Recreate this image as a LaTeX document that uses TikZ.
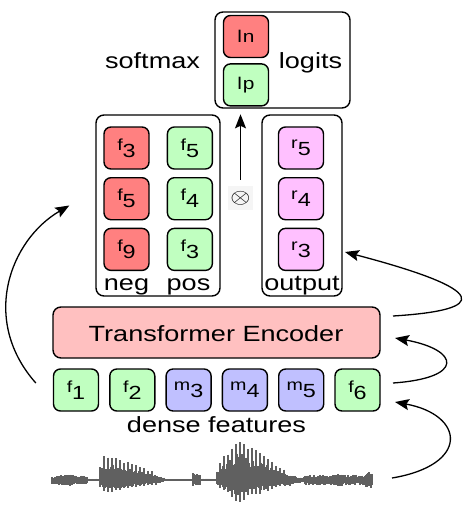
\documentclass[tikz,border=0pt]{standalone}
\usepackage{fontspec}
\setmainfont{Liberation Sans}[FakeStretch=1.23]
\usetikzlibrary{positioning,arrows.meta}

\definecolor{negred}{HTML}{FF8080}
\definecolor{posgreen}{HTML}{C0FFC0}
\definecolor{maskblue}{HTML}{C0C0FF}
\definecolor{outpink}{HTML}{FFC0FF}
\definecolor{encpink}{HTML}{FFC0C0}
\definecolor{wavegray}{HTML}{606060}

% letter with a lowered index
\newcommand{\sublab}[2]{{\fontsize{16}{16}\selectfont #1}\raisebox{-7pt}{#2}}

\begin{document}
\begin{tikzpicture}[x=1pt,y=-1pt,>={Stealth[length=14pt,width=11pt,inset=2.5pt]},
  node distance=7.3pt and 17pt,
  lbl/.style={font=\fontsize{22}{26}\selectfont,inner sep=0pt,anchor=base},
  cell/.style={draw,rounded corners=7pt,line width=1.4pt,minimum width=45pt,minimum height=42pt,inner sep=0pt,font=\fontsize{19}{19}\selectfont},
  group/.style={draw,rounded corners=8pt,line width=1.4pt,inner sep=0pt},
  conn/.style={->,line width=1.3pt},
  wave/.style={line width=1.1pt,draw=wavegray}]

  \useasboundingbox (0,0) rectangle (465,519);

  % logits on top
  \node[group,minimum width=135pt,minimum height=96pt] (logits) at (282.5,60) {};
  \node[cell,fill=negred,font=\fontsize{17}{17}\selectfont] (ln) at (246,36.5) {l\kern1pt n};
  \node[cell,fill=posgreen,font=\fontsize{17}{17}\selectfont,below=5pt of ln] (lp) {l\kern1pt p};
  \node[lbl] (logitslbl) at (310.5,68) {logits};
  \node[lbl] (softmax) at (152.5,68) {softmax};

  % negatives and positives
  \node[group,minimum width=124pt,minimum height=181pt] (negpos) at (158,205.5) {};
  \node[cell,fill=negred] (n1) at (126.5,148) {\sublab{f}{3}};
  \node[cell,fill=negred,below=of n1] (n2) {\sublab{f}{5}};
  \node[cell,fill=negred,below=of n2] (n3) {\sublab{f}{9}};
  \node[cell,fill=posgreen,right=of n1] (p1) {\sublab{f}{5}};
  \node[cell,fill=posgreen,right=of n2] (p2) {\sublab{f}{4}};
  \node[cell,fill=posgreen,right=of n3] (p3) {\sublab{f}{3}};
  \node[lbl] (neglbl) at (126.5,290) {neg};
  \node[lbl] (poslbl) at (188.5,290) {pos};

  % encoder output
  \node[group,minimum width=80pt,minimum height=181pt] (outbox) at (302,205.5) {};
  \node[cell,fill=outpink] (r1) at (301,148) {\sublab{r}{5}};
  \node[cell,fill=outpink,below=of r1] (r2) {\sublab{r}{4}};
  \node[cell,fill=outpink,below=of r2] (r3) {\sublab{r}{3}};
  \node[lbl] (outlbl) at (302,290) {output};

  % product
  \node[fill=gray!8,minimum width=25pt,minimum height=24pt,inner sep=0pt,font=\fontsize{22}{22}\selectfont] (mult) at (240.5,198) {\scalebox{1.25}[1]{$\otimes$}};
  \draw[conn] ([yshift=6pt]mult.north) -- (mult.north |- negpos.north);

  % encoder
  \node[draw,rounded corners=8pt,line width=1.4pt,fill=encpink,minimum width=327pt,minimum height=51pt] (enc) at (216.5,332.5) {};
  \node[lbl] (enclbl) at (216,341) {Transformer Encoder};

  % dense features
  \foreach \i/\l/\s/\c in {1/f/1/posgreen,2/f/2/posgreen,3/m/3/maskblue,4/m/4/maskblue,5/m/5/maskblue,6/f/6/posgreen}
    \node[cell,fill=\c] (d\i) at ({76+56.3*(\i-1)},390) {\sublab{\l}{\s}};
  \node[lbl] (dense) at (216.5,432) {dense features};

  % waveform
  \pgfmathsetseed{12}
  \draw[wave] (52,480) -- (372,480);
  \foreach \xa/\xb/\aa/\ab/\p in {52/70/4/6/0,70/87/6/4/0,87/100/1.5/1.5/0,100/105/14/27/1,105/155/27/8/1,155/165/5/2/0,165/193/1/1/0,193/200/7/5/0,200/217/1.5/1.5/0,217/238/14/43/1,238/285/43/10/1,285/300/7/3/0,300/305/3/3/0,305/340/5/6/0,340/366/6/5/0,366/372/9/8/0}{
    \foreach \x in {\xa,...,\xb}{
      \pgfmathsetmacro\wamp{\aa+(\ab-\aa)*(\x-\xa)/(\xb-\xa)}
      \pgfmathsetmacro\wup{ifthenelse(\p==1,ifthenelse(mod(\x,4)==0,\wamp*(0.85+0.15*rnd),\wamp*(0.35+0.3*rnd)),\wamp*(0.5+0.5*rnd))}
      \pgfmathsetmacro\wdn{ifthenelse(\p==1,ifthenelse(mod(\x,4)==0,\wamp*(0.4+0.12*rnd),\wamp*(0.22+0.15*rnd)),\wamp*(0.5+0.5*rnd))}
      \draw[wave] (\x,480-\wup) -- (\x,480+\wdn);
    }
  }

  % connectors
  \coordinate (featup) at ([xshift=-17pt,yshift=7pt]d1.west);
  \coordinate (negin) at ([xshift=-26pt]negpos.west);
  \draw[conn] (featup) .. controls (-20,320) and (10,240) .. (negin);
  \coordinate (encout) at (393,316);
  \coordinate (outin) at (345,252);
  \draw[conn] (encout) .. controls (490,310) and (490,290) .. (outin);
  \coordinate (featout) at (393,383);
  \coordinate (encin) at (395,338);
  \draw[conn] (featout) .. controls (465,378) and (460,350) .. (encin);
  \coordinate (waveout) at (392,478);
  \coordinate (featin) at (395,402);
  \draw[conn] (waveout) .. controls (470,465) and (465,415) .. (featin);
\end{tikzpicture}
\end{document}
